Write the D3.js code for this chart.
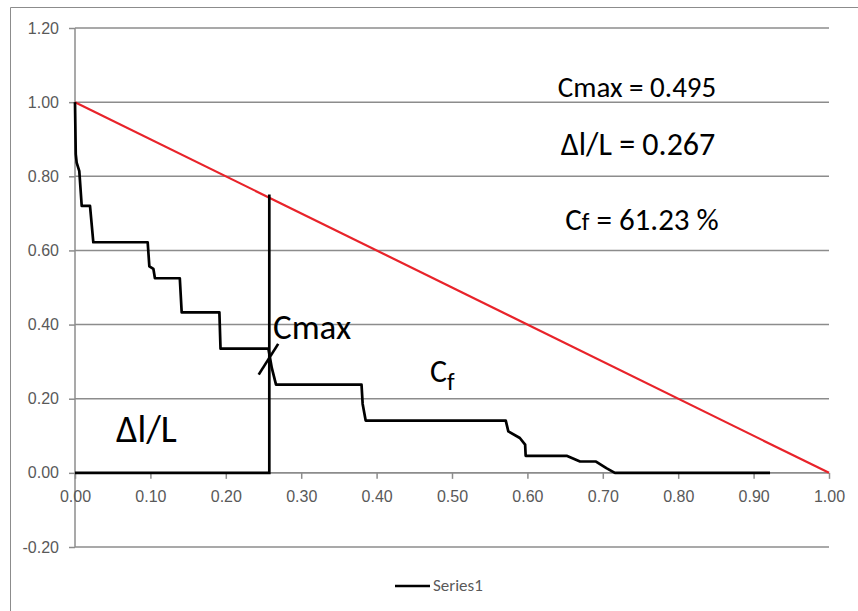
<!DOCTYPE html>
<html>
<head>
<meta charset="utf-8">
<script src="https://cdn.jsdelivr.net/npm/d3@7"></script>
<style>
  body { margin: 0; background: #fff; }
  svg { font-family: Carlito, Lato, "Open Sans", sans-serif; }
  .axis text { fill: #595959; font-size: 16px; }
  .grid line { stroke: #8c8c8c; stroke-width: 1.5; }
</style>
</head>
<body>
<div id="chart"></div>
<script>
// step curve (Series1), x = Δl/L, y = C
var curveX = [0, 0.001, 0.0022, 0.0057, 0.0089, 0.0199, 0.0243, 0.0964, 0.0986, 0.104, 0.106, 0.139, 0.1415, 0.1915, 0.193,
              0.2565, 0.261, 0.2666, 0.380, 0.3815, 0.3855, 0.5713, 0.5747, 0.590, 0.597, 0.5977, 0.652, 0.6698, 0.691,
              0.7047, 0.716, 0.9218];
var curveY = [1.00, 0.86, 0.837, 0.814, 0.72, 0.72, 0.622, 0.622, 0.557, 0.55, 0.525, 0.525, 0.433, 0.433, 0.335,
              0.335, 0.283, 0.238, 0.238, 0.186, 0.141, 0.141, 0.112, 0.094, 0.076, 0.046, 0.046, 0.0306, 0.0306,
              0.0126, 0, 0];
// Δl/L marker: base line and vertical line
var markerX = [0, 0.2577, 0.2577];
var markerY = [0, 0, 0.751];
// cross at Cmax
var crossX = [0.2436, 0.2695];
var crossY = [0.265, 0.348];
// diagonal reference line
var diagX = [0, 1];
var diagY = [1, 0];
var xTicks = [0, 0.1, 0.2, 0.3, 0.4, 0.5, 0.6, 0.7, 0.8, 0.9, 1.0];
var yTicks = [-0.2, 0, 0.2, 0.4, 0.6, 0.8, 1.0, 1.2];

var width = 858, height = 611;
var svg = d3.select("#chart").append("svg")
    .attr("width", width).attr("height", height);

var x = d3.scaleLinear().domain([0, 1]).range([75, 829]);
var y = d3.scaleLinear().domain([-0.2, 1.2]).range([547, 28]);
var fmt = function(d) { return d3.format(".2f")(d).replace("\u2212", "-"); };

// chart frame (only left and top edges are inside the picture)
svg.append("path").attr("d", "M10.5,611V7.5H858")
  .attr("fill", "none").attr("stroke", "#8c8c8c").attr("stroke-width", 1);

// horizontal gridlines
svg.append("g").attr("class", "grid")
  .selectAll("line").data(yTicks).enter().append("line")
  .attr("x1", x(0)).attr("x2", x(1))
  .attr("y1", function(d) { return y(d); })
  .attr("y2", function(d) { return y(d); });

// y axis
var yAxis = svg.append("g").attr("class", "axis")
  .attr("transform", "translate(" + x(0) + ",0)")
  .call(d3.axisLeft(y).tickValues(yTicks).tickFormat(fmt).tickSize(6).tickPadding(10));
yAxis.selectAll("line, path").attr("stroke", "#8c8c8c").attr("stroke-width", 1.5);
yAxis.select("path").attr("d", "M0," + y(1.2) + "V" + y(-0.2));

// x axis at y = 0
var xAxis = svg.append("g").attr("class", "axis")
  .attr("transform", "translate(0," + y(0) + ")")
  .call(d3.axisBottom(x).tickValues(xTicks).tickFormat(fmt).tickSize(6).tickPadding(12));
xAxis.selectAll("line, path").attr("stroke", "#8c8c8c").attr("stroke-width", 1.5);
xAxis.select("path").attr("d", "M" + x(0) + ",0H" + x(1));

var line = d3.line().x(function(d) { return x(d[0]); }).y(function(d) { return y(d[1]); });
function pts(xs, ys) { return xs.map(function(v, i) { return [v, ys[i]]; }); }

svg.append("path").datum(pts(diagX, diagY)).attr("d", line)
  .attr("fill", "none").attr("stroke", "#e8232a").attr("stroke-width", 2.2);
svg.append("path").datum(pts(markerX, markerY)).attr("d", line)
  .attr("fill", "none").attr("stroke", "#000").attr("stroke-width", 2.7);
svg.append("path").datum(pts(crossX, crossY)).attr("d", line)
  .attr("fill", "none").attr("stroke", "#000").attr("stroke-width", 2.7);
svg.append("path").datum(pts(curveX, curveY)).attr("d", line)
  .attr("fill", "none").attr("stroke", "#000").attr("stroke-width", 2.7)
  .attr("stroke-linejoin", "round");

// annotations
function label(tx, ty, size, anchor) {
  return svg.append("text").attr("x", tx).attr("y", ty)
    .attr("font-size", size).attr("text-anchor", anchor || "start")
    .attr("fill", "#000");
}
label(637, 97, 29, "middle").text("Cmax = 0.495");
label(638, 155, 32, "middle").text("\u0394l/L = 0.267");
var cf = label(642, 230, 31, "middle");
cf.append("tspan").text("C");
cf.append("tspan").attr("font-size", 25).text("f");
cf.append("tspan").text(" = 61.23 %");
label(273, 339, 35).text("Cmax");
var cf2 = label(430, 382, 32);
cf2.append("tspan").text("C");
cf2.append("tspan").attr("font-size", 25).attr("dy", 8).text("f");
label(116, 442, 38).text("\u0394l/L");

// legend
svg.append("line").attr("x1", 395).attr("x2", 430).attr("y1", 586).attr("y2", 586)
  .attr("stroke", "#000").attr("stroke-width", 2.7);
svg.append("text").attr("x", 433).attr("y", 591).attr("font-size", 17)
  .attr("fill", "#595959").text("Series1");
</script>
</body>
</html>
